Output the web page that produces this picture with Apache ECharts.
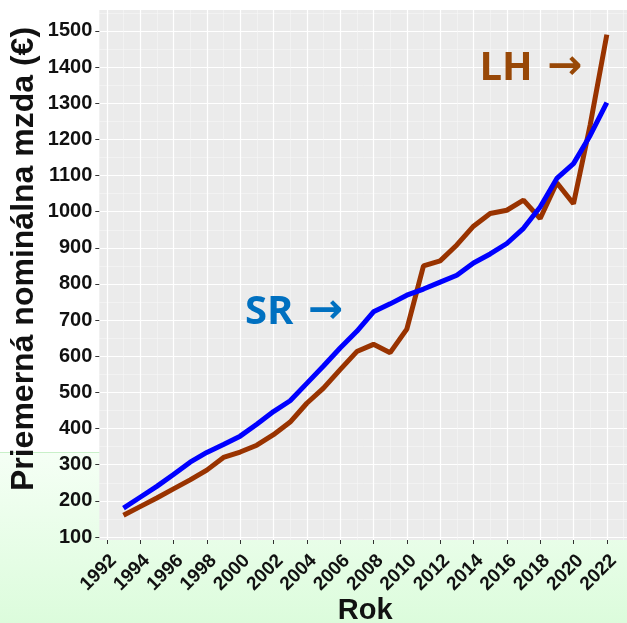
<!DOCTYPE html>
<html>
<head>
    <meta charset="UTF-8">
    <title>Priemerná nominálna mzda</title>
    <script src="https://cdn.jsdelivr.net/npm/echarts@6/dist/echarts.min.js"></script>
    <style>
        html, body {
            margin: 0;
            padding: 0;
        }
        body {
            width: 627px;
            height: 623px;
            /* pozadie ako na slajde: biele hore, zelenkavé dole */
            background: linear-gradient(to bottom, #ffffff 0, #ffffff 452px, #c9f0c9 452px, #c9f0c9 453px, #f5fff5 453px, #dcfcdc 623px);
        }
        #chart {
            width: 627px;
            height: 623px;
        }
    </style>
</head>
<body>
<div id="chart"></div>

<script>
    // roky a mzdy (€)
    var years = [1993, 1994, 1995, 1996, 1997, 1998, 1999, 2000, 2001, 2002,
        2003, 2004, 2005, 2006, 2007, 2008, 2009, 2010, 2011, 2012,
        2013, 2014, 2015, 2016, 2017, 2018, 2019, 2020, 2021, 2022];
    var sr = [180, 210, 240, 273, 307, 334, 356, 379, 412, 447,
        477, 525, 573, 623, 669, 723, 745, 769, 786, 805,
        824, 858, 883, 912, 954, 1013, 1092, 1133, 1211, 1302];
    var lh = [160, 184, 208, 233, 258, 285, 320, 335, 354, 383,
        418, 470, 512, 563, 613, 633, 610, 675, 850, 864,
        908, 960, 995, 1004, 1032, 981, 1080, 1022, 1240, 1490];

    // popisy osí
    var xTicks = [1992, 1994, 1996, 1998, 2000, 2002, 2004, 2006, 2008, 2010,
        2012, 2014, 2016, 2018, 2020, 2022];
    var xMinor = [1993, 1995, 1997, 1999, 2001, 2003, 2005, 2007, 2009, 2011,
        2013, 2015, 2017, 2019, 2021, 2023];
    var yTicks = [100, 200, 300, 400, 500, 600, 700, 800, 900, 1000,
        1100, 1200, 1300, 1400, 1500];
    var yMinor = [150, 250, 350, 450, 550, 650, 750, 850, 950, 1050,
        1150, 1250, 1350, 1450, 1550];

    function pairs(xs, ys) {
        var out = [];
        for (var i = 0; i < xs.length; i++) {
            out.push([xs[i], ys[i]]);
        }
        return out;
    }

    // popis so šípkou (text tučne, šípka tenšia)
    function arrowLabel(txt, color) {
        return {
            show: true,
            position: 'inside',
            formatter: '{a|' + txt + '}{b| →}',
            rich: {
                a: {
                    color: color,
                    fontSize: 40,
                    fontWeight: 'bold',
                    fontFamily: '"Open Sans", "Noto Sans", sans-serif'
                },
                b: {
                    color: color,
                    fontSize: 42,
                    fontWeight: 'bold',
                    fontFamily: '"DejaVu Sans", sans-serif'
                }
            }
        };
    }

    var chart = echarts.init(document.getElementById('chart'), null, {renderer: 'canvas'});

    var xMin = 1991.55, xMax = 2023.45;
    var yMin = 91.7, yMax = 1558;

    var labelFont = {
        color: '#111',
        fontWeight: 'bold',
        fontFamily: '"Liberation Sans", Arial, sans-serif',
        formatter: function (v) { return String(v); }
    };

    var option = {
        animation: false,
        backgroundColor: 'transparent',
        grid: {
            left: 99.3,
            right: -4,
            top: 10,
            bottom: 83,
            outerBoundsMode: 'none',
            containLabel: false,
            show: true,
            backgroundColor: '#EBEBEB',
            borderWidth: 0
        },
        xAxis: [{
            type: 'value',
            min: xMin,
            max: xMax,
            name: 'Rok',
            nameLocation: 'middle',
            nameGap: 56,
            nameMoveOverlap: false,
            nameTextStyle: {
                color: '#111',
                fontSize: 29,
                fontWeight: 'bold',
                fontFamily: '"Liberation Sans", Arial, sans-serif'
            },
            axisLine: {show: false},
            axisTick: {show: true, length: 4, customValues: xTicks, lineStyle: {color: '#333', width: 1}},
            axisLabel: Object.assign({
                customValues: xTicks,
                rotate: 45,
                fontSize: 19,
                margin: 11,
                align: 'right',
                verticalAlign: 'top'
            }, labelFont),
            splitLine: {show: true, lineStyle: {color: '#ffffff', width: 1.2}}
        }, {
            type: 'value',
            min: xMin,
            max: xMax,
            axisLine: {show: false},
            axisTick: {show: false, customValues: xMinor},
            axisLabel: {show: false, customValues: xMinor},
            splitLine: {show: true, lineStyle: {color: '#f7f7f7', width: 0.6}}
        }],
        yAxis: [{
            type: 'value',
            min: yMin,
            max: yMax,
            name: 'Priemerná nominálna mzda (€)',
            nameLocation: 'middle',
            nameGap: 59,
            nameMoveOverlap: false,
            nameTextStyle: {
                color: '#111',
                fontSize: 32,
                fontWeight: 'bold',
                fontFamily: '"Liberation Sans", Arial, sans-serif',
                padding: [0, 0, 0, 32]
            },
            axisLine: {show: false},
            axisTick: {show: true, length: 4, customValues: yTicks, lineStyle: {color: '#333', width: 1}},
            axisLabel: Object.assign({
                customValues: yTicks,
                fontSize: 20,
                margin: 7
            }, labelFont),
            splitLine: {show: true, lineStyle: {color: '#ffffff', width: 1.2}}
        }, {
            type: 'value',
            min: yMin,
            max: yMax,
            axisLine: {show: false},
            axisTick: {show: false, customValues: yMinor},
            axisLabel: {show: false, customValues: yMinor},
            splitLine: {show: true, lineStyle: {color: '#f7f7f7', width: 0.6}}
        }],
        series: [{
            name: 'LH',
            type: 'line',
            xAxisIndex: 0,
            yAxisIndex: 0,
            data: pairs(years, lh),
            showSymbol: false,
            symbol: 'none',
            lineStyle: {color: '#993300', width: 5},
            z: 3,
            markPoint: {
                symbol: 'circle',
                symbolSize: 0,
                data: [{coord: [2017.45, 1396]}],
                label: arrowLabel('LH', '#984807')
            }
        }, {
            name: 'SR',
            type: 'line',
            xAxisIndex: 0,
            yAxisIndex: 0,
            data: pairs(years, sr),
            showSymbol: false,
            symbol: 'none',
            lineStyle: {color: '#0000FF', width: 5},
            z: 4,
            markPoint: {
                symbol: 'circle',
                symbolSize: 0,
                data: [{coord: [2003.24, 722]}],
                label: arrowLabel('SR', '#0070C0')
            }
        }]
    };

    chart.setOption(option);
</script>
</body>
</html>
